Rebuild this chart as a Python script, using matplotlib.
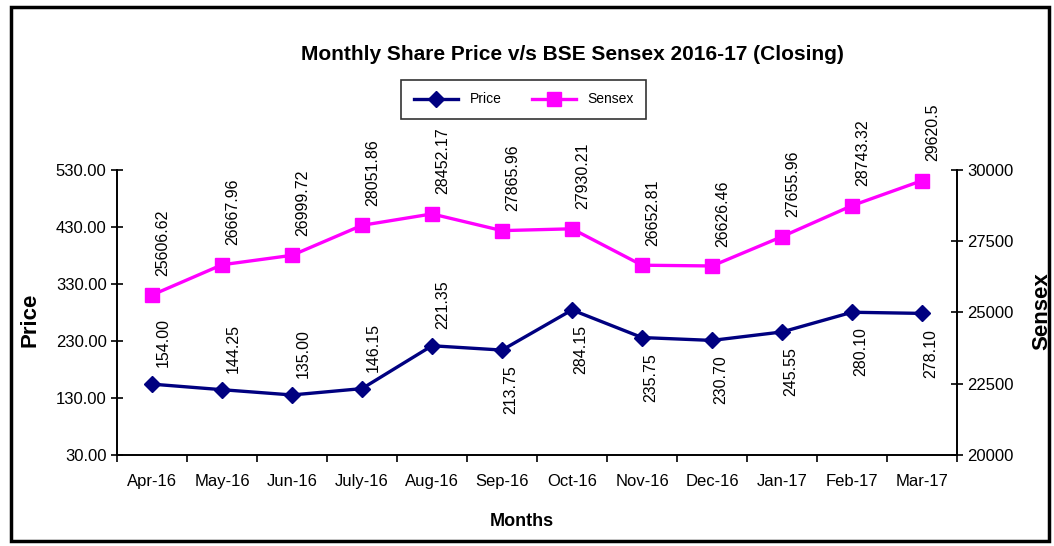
import matplotlib.pyplot as plt
from matplotlib.patches import Rectangle

plt.rcParams['font.family'] = ['Liberation Sans', 'DejaVu Sans']

months = ["Apr-16", "May-16", "Jun-16", "July-16", "Aug-16", "Sep-16",
          "Oct-16", "Nov-16", "Dec-16", "Jan-17", "Feb-17", "Mar-17"]
price = [154.00, 144.25, 135.00, 146.15, 221.35, 213.75,
         284.15, 235.75, 230.70, 245.55, 280.10, 278.10]
price_labels = ["154.00", "144.25", "135.00", "146.15", "221.35", "213.75",
                "284.15", "235.75", "230.70", "245.55", "280.10", "278.10"]
sensex = [25606.62, 26667.96, 26999.72, 28051.86, 28452.17, 27865.96,
          27930.21, 26652.81, 26626.46, 27655.96, 28743.32, 29620.5]
sensex_labels = ["25606.62", "26667.96", "26999.72", "28051.86", "28452.17", "27865.96",
                 "27930.21", "26652.81", "26626.46", "27655.96", "28743.32", "29620.5"]

navy = "#000080"
magenta = "#FF00FF"

fig = plt.figure(figsize=(10.54, 5.46), dpi=100)
ax = fig.add_axes([0.111, 0.167, 0.797, 0.522])
ax2 = ax.twinx()

x = [i + 0.5 for i in range(len(months))]

# -------------------------
# LINES
# -------------------------
l1, = ax.plot(x, price, color=navy, lw=2.4, marker="D", ms=8, label="Price", zorder=3)
l2, = ax2.plot(x, sensex, color=magenta, lw=2.4, marker="s", ms=9.5, label="Sensex", zorder=3)

# price labels: above for first five, below afterwards
for i, (xi, v, t) in enumerate(zip(x, price, price_labels)):
    if i < 5:
        ax.annotate(t, (xi, v), xytext=(8, 12), textcoords="offset points",
                    rotation=90, ha="center", va="bottom", fontsize=11.5)
    else:
        ax.annotate(t, (xi, v), xytext=(6, -11), textcoords="offset points",
                    rotation=90, ha="center", va="top", fontsize=11.5)

for xi, v, t in zip(x, sensex, sensex_labels):
    ax2.annotate(t, (xi, v), xytext=(8, 14), textcoords="offset points",
                 rotation=90, ha="center", va="bottom", fontsize=11.5)

# -------------------------
# AXES
# -------------------------
ax.set_xlim(0, 12)
ax.set_ylim(30, 530)
ax.set_yticks([30, 130, 230, 330, 430, 530])
ax.set_yticklabels([f"{v:.2f}" for v in [30, 130, 230, 330, 430, 530]], fontsize=12)
ax2.set_ylim(20000, 30000)
ax2.set_yticks([20000, 22500, 25000, 27500, 30000])
ax2.set_yticklabels(["20000", "22500", "25000", "27500", "30000"], fontsize=12)

ax.set_xticks(range(13))
ax.set_xticklabels([])
ax.set_xticks(x, minor=True)
ax.set_xticklabels(months, minor=True, fontsize=12)
ax.tick_params(axis="x", which="major", direction="out", length=5, width=1.2)
ax.tick_params(axis="x", which="minor", length=0, pad=14)
ax.tick_params(axis="y", direction="inout", length=9, width=1.2, pad=3)
ax2.tick_params(axis="y", direction="inout", length=9, width=1.2, pad=3)

for a in (ax, ax2):
    a.spines["top"].set_visible(False)
    for s in ("left", "right", "bottom"):
        a.spines[s].set_linewidth(1.4)
ax.spines["right"].set_visible(False)
ax2.spines["left"].set_visible(False)
ax2.spines["bottom"].set_visible(False)

fig.text(0.028, 0.415, "Price", rotation=90, ha="center", va="center",
         fontsize=16, fontweight="bold")
fig.text(0.988, 0.43, "Sensex", rotation=90, ha="center", va="center",
         fontsize=16, fontweight="bold")
fig.text(0.495, 0.045, "Months", ha="center", va="center",
         fontsize=13, fontweight="bold")
fig.text(0.543, 0.9, "Monthly Share Price v/s BSE Sensex 2016-17 (Closing)",
         ha="center", va="center", fontsize=15, fontweight="bold")

leg = fig.legend(handles=[l1, l2], loc="center", bbox_to_anchor=(0.497, 0.818),
                 ncol=2, fontsize=10, frameon=True, fancybox=False,
                 handlelength=3.2, columnspacing=2.2, borderpad=0.9)
leg.get_frame().set_edgecolor("black")
leg.get_frame().set_linewidth(1.2)

# outer chart frame
fig.patches.append(Rectangle((0.01, 0.01), 0.985, 0.978, transform=fig.transFigure,
                             fill=False, edgecolor="black", lw=2.5))

plt.savefig("out.png", dpi=100)
